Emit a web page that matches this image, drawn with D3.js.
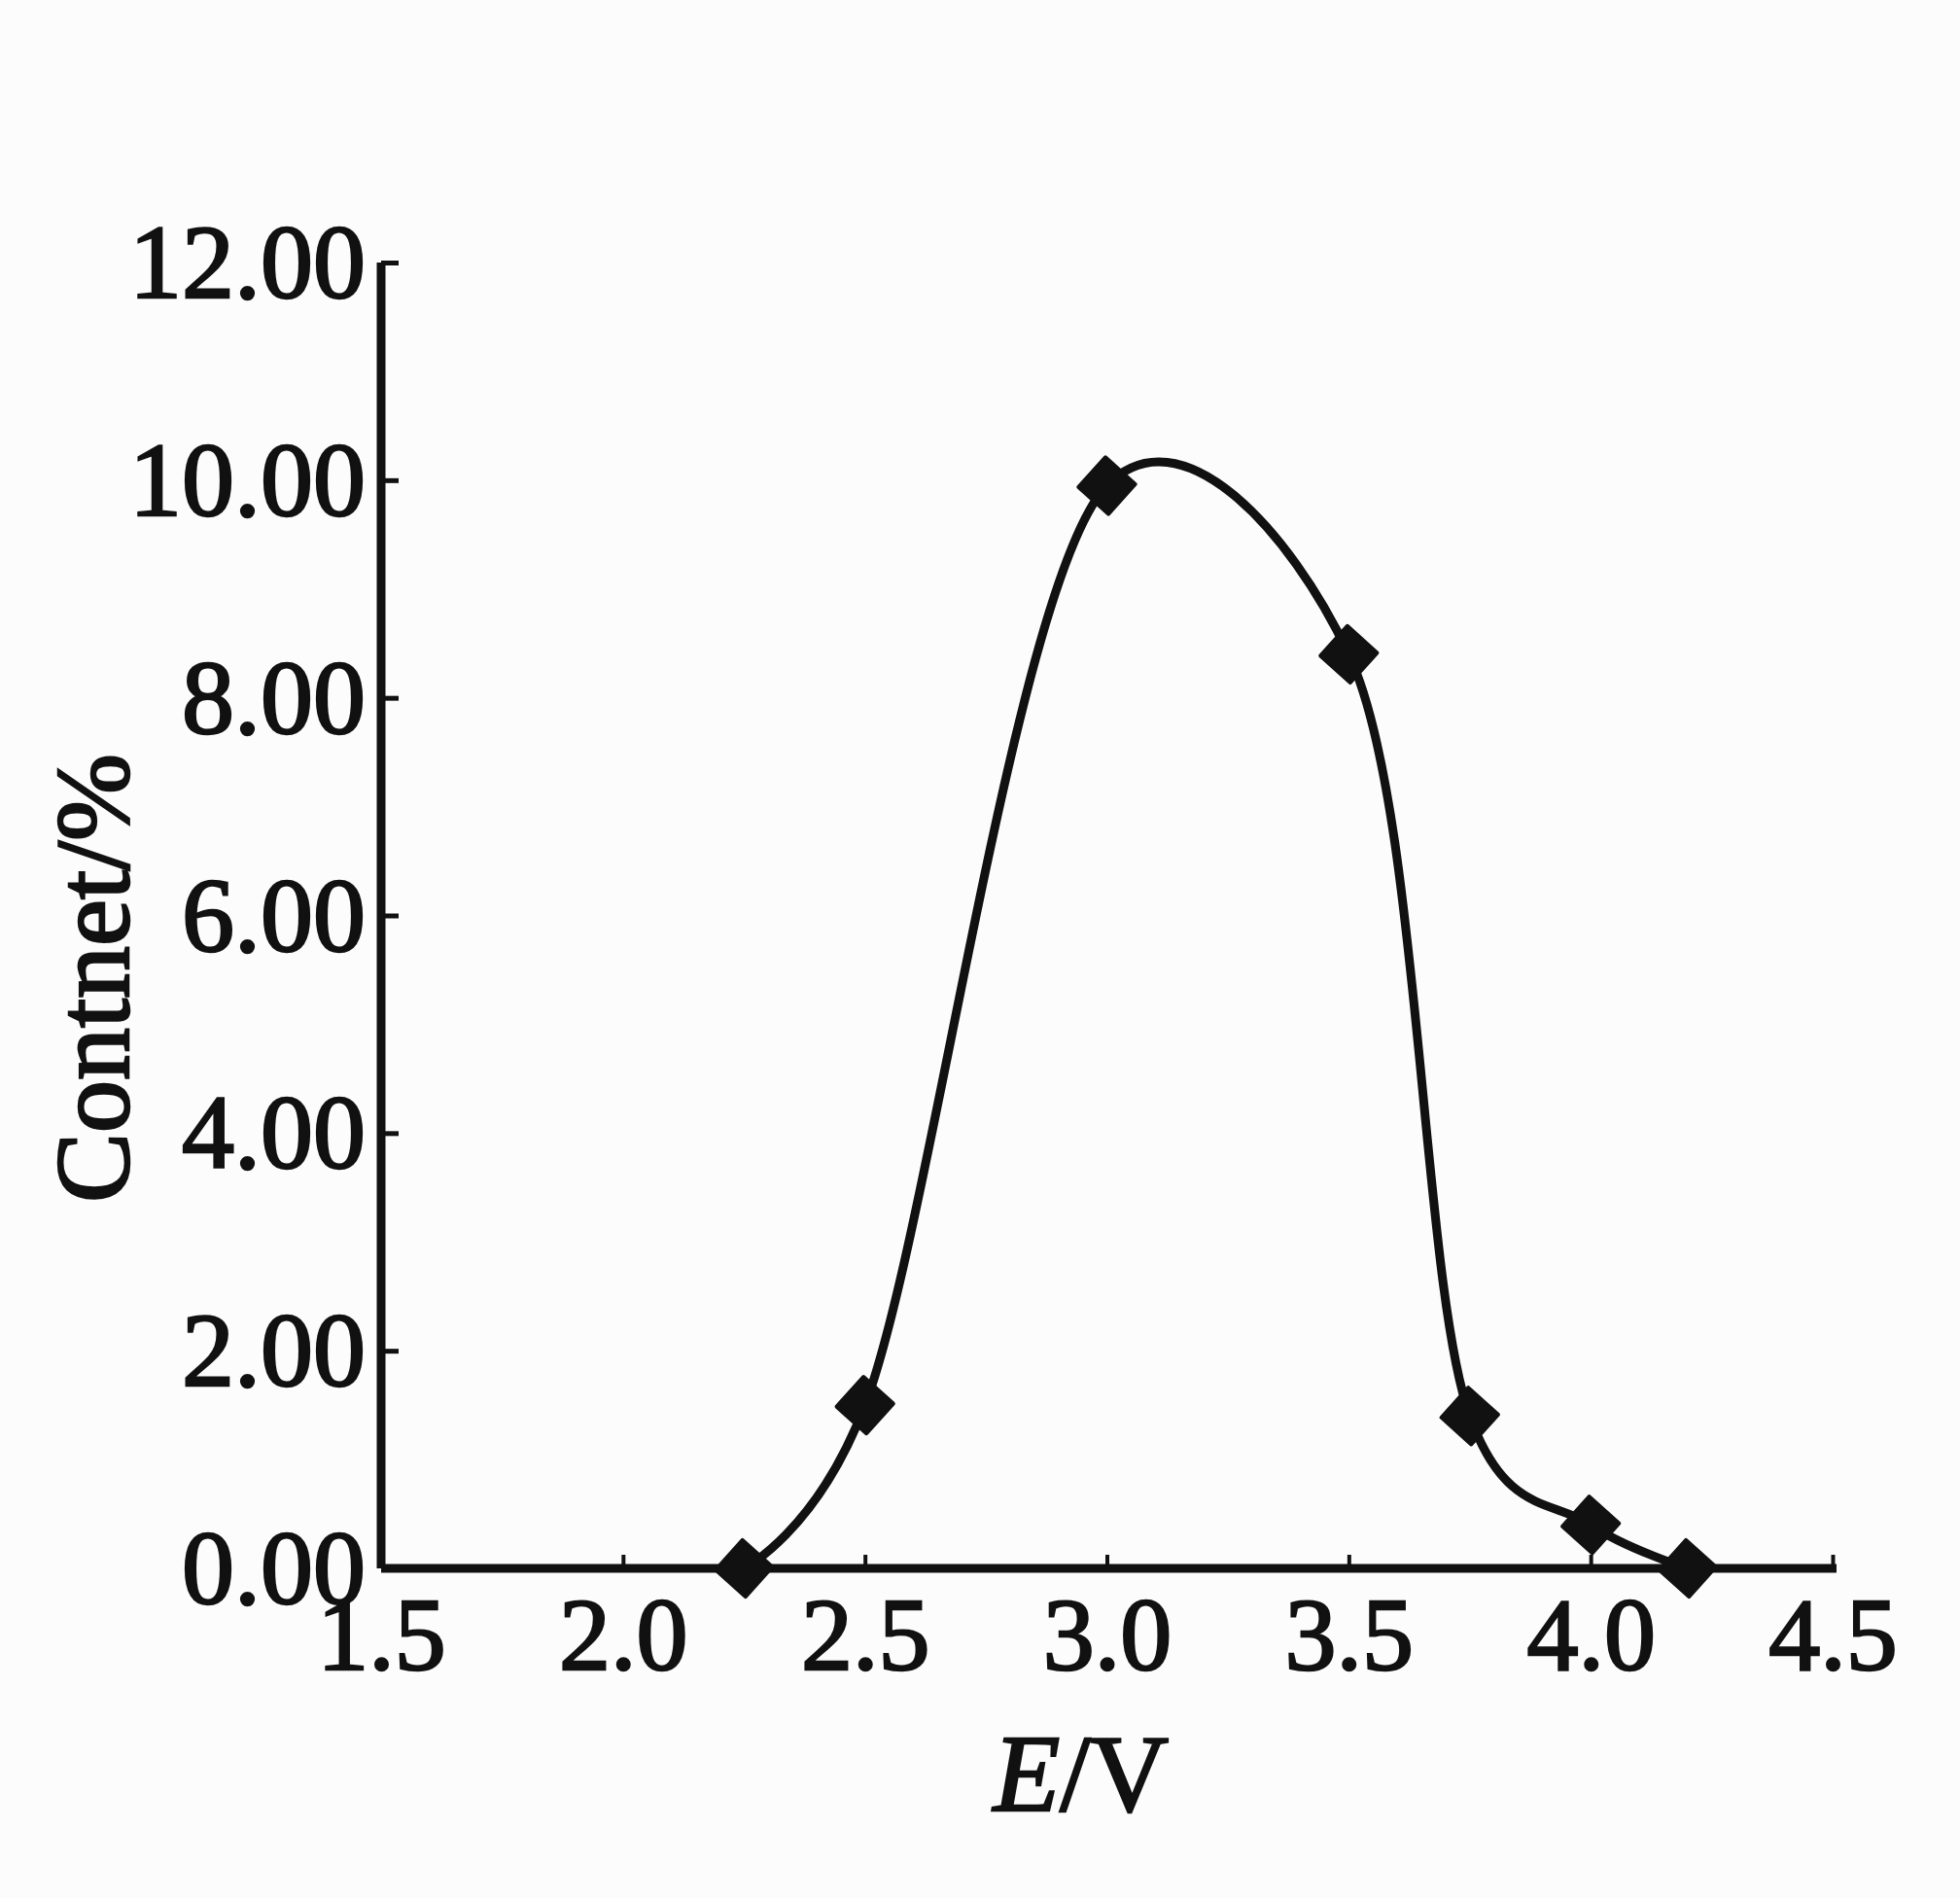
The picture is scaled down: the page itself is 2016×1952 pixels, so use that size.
<!DOCTYPE html>
<html>
<head>
<meta charset="utf-8">
<script src="https://cdn.jsdelivr.net/npm/d3@7"></script>
<style>
html,body{margin:0;padding:0;background:#fcfcfc;}
svg{display:block;}
text{font-family:"Liberation Serif","DejaVu Serif",serif;fill:#111;}
</style>
</head>
<body>
<svg id="chart" width="2016" height="1952"></svg>
<script>
// Data
const energy  = [2.25, 2.5, 3.0, 3.5, 3.75, 4.0, 4.2];
const content = [0.0, 1.5, 9.95, 8.4, 1.4, 0.4, 0.0];
const xTicks = [1.5, 2.0, 2.5, 3.0, 3.5, 4.0, 4.5];
const yTicks = [0, 2, 4, 6, 8, 10, 12];
const xLabel = "E/V";
const yLabel = "Contnet/%";

const svg = d3.select("#chart");
const W = 2016, H = 1952;
svg.append("rect").attr("width", W).attr("height", H).attr("fill", "#fcfcfc");

const x = d3.scaleLinear().domain([1.5, 4.5]).range([392, 1885]);
const y = d3.scaleLinear().domain([0, 12]).range([1613, 270]);

const ink = "#111";

// X axis
const xAxis = d3.axisBottom(x).tickValues(xTicks).tickSize(-14).tickPadding(0).tickFormat(d3.format(".1f"));
const gx = svg.append("g").attr("transform", `translate(0,${y(0)})`).call(xAxis);
gx.select(".domain").attr("d", `M${x(1.5)},0H${x(4.5)+4}`).attr("stroke", ink).attr("stroke-width", 9);
gx.selectAll(".tick line").attr("stroke", ink).attr("stroke-width", 4);
gx.selectAll(".tick text")
  .attr("font-size", 106).attr("fill", ink).attr("stroke", ink).attr("stroke-width", 2.5)
  .attr("y", 104).attr("dy", 0)
  .attr("font-family", "Liberation Serif, serif");

// Y axis
const yAxis = d3.axisLeft(y).tickValues(yTicks).tickSize(-18).tickPadding(0).tickFormat(d3.format(".2f"));
const gy = svg.append("g").attr("transform", `translate(${x(1.5)},0)`).call(yAxis);
gy.select(".domain").attr("d", `M0,${y(12)}V${y(0)}`).attr("stroke", ink).attr("stroke-width", 9);
gy.selectAll(".tick line").attr("stroke", ink).attr("stroke-width", 5);
gy.selectAll(".tick text")
  .attr("font-size", 108).attr("fill", ink).attr("stroke", ink).attr("stroke-width", 2.5)
  .attr("x", -16).attr("dy", "0.33em")
  .attr("font-family", "Liberation Serif, serif");

// Axis titles
const xt = svg.append("text")
  .attr("x", 1112).attr("y", 1862)
  .attr("text-anchor", "middle").attr("font-size", 112)
  .attr("stroke", ink).attr("stroke-width", 2.5);
xt.append("tspan").attr("font-style", "italic").text(xLabel.split("/")[0]);
xt.append("tspan").text("/" + xLabel.split("/")[1]);

svg.append("text")
  .attr("transform", "translate(132,1006) rotate(-90)")
  .attr("text-anchor", "middle").attr("font-size", 108)
  .attr("stroke", ink).attr("stroke-width", 2.5)
  .text(yLabel);

// Curve
const pts = energy.map((e, i) => [e, content[i]]);
const line = d3.line().x(d => x(d[0])).y(d => y(d[1])).curve(d3.curveCatmullRom.alpha(0.2));
svg.append("path").datum(pts).attr("d", line)
  .attr("fill", "none").attr("stroke", ink).attr("stroke-width", 9).attr("stroke-linejoin", "round");

// Markers (rotated squares)
const sym = d3.symbol().type(d3.symbolSquare).size(1700);
svg.selectAll(".mk").data(pts).join("path").attr("class", "mk")
  .attr("d", sym)
  .attr("transform", d => `translate(${x(d[0])},${y(d[1])}) rotate(42)`)
  .attr("fill", ink).attr("stroke", ink).attr("stroke-width", 4).attr("stroke-linejoin", "round");
</script>
</body>
</html>
